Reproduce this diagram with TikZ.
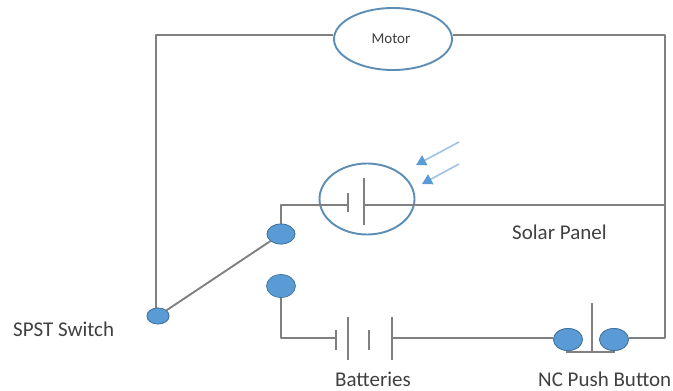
\documentclass[tikz,border=0pt]{standalone}
\usepackage{fontspec}
\setmainfont{Carlito}
\usetikzlibrary{shapes.geometric,arrows.meta}
\definecolor{wirec}{HTML}{808080}
\definecolor{ringc}{HTML}{5B8DB5}
\definecolor{termc}{HTML}{5B9BD5}
\definecolor{termb}{HTML}{41719C}
\definecolor{rayc}{HTML}{9DC3E6}
\tikzset{
  wire/.style={draw=wirec,line width=1.9pt},
  plate/.style={draw=wirec,line width=1.8pt},
  ring/.style={ellipse,draw=ringc,line width=1.9pt,inner sep=0pt,fill=white},
  term/.style={ellipse,draw=termb,line width=.7pt,fill=termc,inner sep=0pt},
  ray/.style={draw=rayc,line width=1.6pt,-{Triangle[length=10pt,width=11pt,color=termc]}},
  lab/.style={font=\fontsize{21}{23}\selectfont,text=black!75,inner sep=0pt}
}
\begin{document}
\begin{tikzpicture}[x=1pt,y=-1pt]
\useasboundingbox (0,0) rectangle (673,391);
% coordinates
\coordinate (cTL) at (156,35);
\coordinate (cTR) at (665,35);
\coordinate (cSolarJ) at (665,205);
\coordinate (cBR) at (665,338);
\coordinate (cSW) at (281,205);
\coordinate (cBW) at (281,338);
\coordinate (p1) at (348,205);
\coordinate (p2) at (364,205);
\coordinate (b1) at (336,338);
\coordinate (b4) at (392,338);
\coordinate (r1a) at (459,142);
\coordinate (r1b) at (416,165);
\coordinate (r2a) at (459,164);
\coordinate (r2b) at (422,184);
\coordinate (stemT) at (592,303);
\coordinate (stemB) at (592,352);
\coordinate (barL) at (566,352);
\coordinate (barR) at (615,352);
% nodes
\node[ring,minimum width=118pt,minimum height=62pt] (motor) at (393,39) {};
\node[ring,minimum width=95pt,minimum height=71pt] (solar) at (367,199) {};
\node[term,minimum width=28pt,minimum height=20pt] (t1) at (281,234) {};
\node[term,minimum width=29pt,minimum height=23pt] (t2) at (281,286) {};
\node[term,minimum width=22pt,minimum height=16pt] (sw) at (158,316) {};
\node[term,minimum width=29pt,minimum height=22pt] (nc1) at (568,339.5) {};
\node[term,minimum width=29pt,minimum height=22pt] (nc2) at (614,339.5) {};
% wires
\draw[wire,line join=round] (motor.west |- cTL) -- (cTL) -- (sw.north -| cTL);
\draw[wire,line join=round] (motor.east |- cTR) -- (cTR) -- (cBR) -- (nc2.east |- cBR);
\draw[wire] (sw) -- (t1);
\draw[wire,line join=round] (t1.north) -- (cSW) -- (p1);
\draw[wire] (p2) -- (cSolarJ);
\draw[wire,line join=round] (t2.south) -- (cBW) -- (b1);
\draw[wire] (b4) -- (nc1.west |- b4);
% plates
\draw[plate] (348,193) -- (348,212);
\draw[plate] (364,178) -- (364,225);
\draw[plate] (336,330) -- (336,350);
\draw[plate] (348,317) -- (348,360);
\draw[plate] (369,330) -- (369,350);
\draw[plate] (392,317) -- (392,360);
\draw[plate] (stemT) -- (stemB);
\draw[plate] (barL) -- (barR);
% redraw terminals over wires
\node[term,minimum width=28pt,minimum height=20pt] at (t1) {};
\node[term,minimum width=22pt,minimum height=16pt] at (sw) {};
\node[term,minimum width=29pt,minimum height=22pt] at (nc1) {};
\node[term,minimum width=29pt,minimum height=22pt] at (nc2) {};
% rays
\draw[ray] (r1a) -- (r1b);
\draw[ray] (r2a) -- (r2b);
% labels
\node[font=\fontsize{15}{17}\selectfont,text=black!75,inner sep=0pt] (lm) at (391,38.5) {Motor};
\node[lab,anchor=west] (ls) at (13,329.5) {SPST Switch};
\node[lab,anchor=west] (lp) at (512,232) {Solar Panel};
\node[lab,anchor=west] (lb) at (335,379.5) {Batteries};
\node[lab,anchor=west] (ln) at (538,379.5) {NC Push Button};
\end{tikzpicture}
\end{document}
